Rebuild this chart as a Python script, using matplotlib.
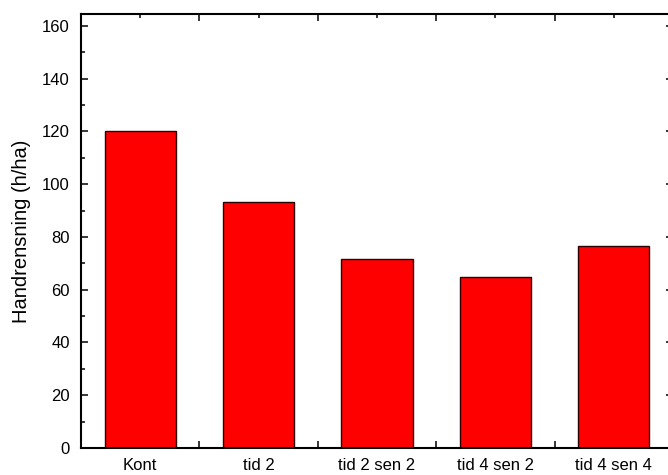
import matplotlib
matplotlib.use("Agg")
import matplotlib.pyplot as plt
from matplotlib.ticker import MultipleLocator, FixedLocator

categories = ["Kont", "tid 2", "tid 2 sen 2", "tid 4 sen 2", "tid 4 sen 4"]
values = [120.3, 93.2, 71.5, 64.7, 76.6]

plt.rcParams['font.family'] = ['Liberation Sans', 'DejaVu Sans']

fig = plt.figure(figsize=(6.68, 4.75), dpi=100)
ax = fig.add_axes([81/668, 27/475, 592/668, 434/475])

x = list(range(len(categories)))
ax.bar(x, values, width=0.6, color="#ff0000", edgecolor="#2a0000", linewidth=1.0, zorder=2)

ax.set_xlim(-0.5, len(categories) - 0.5)
ax.set_ylim(0, 164.5)

ax.yaxis.set_major_locator(MultipleLocator(20))
ax.yaxis.set_minor_locator(MultipleLocator(10))
ax.set_xticks(x)
ax.set_xticklabels(categories)
ax.xaxis.set_minor_locator(FixedLocator([i + 0.5 for i in range(len(categories) - 1)]))

ax.tick_params(axis='both', which='major', direction='in', length=5, width=1.1,
               labelsize=12, top=True, right=True, pad=8)
ax.tick_params(axis='x', which='major', length=3, pad=7)
ax.tick_params(axis='x', which='minor', direction='in', length=5, width=1.1, top=True, bottom=True)
ax.tick_params(axis='y', which='minor', direction='in', length=3, width=1.1, left=True, right=True)

for s in ax.spines.values():
    s.set_linewidth(1.5)

ax.set_ylabel("Handrensning (h/ha)", fontsize=14.5, labelpad=8)

fig.savefig("out.png", dpi=100)
